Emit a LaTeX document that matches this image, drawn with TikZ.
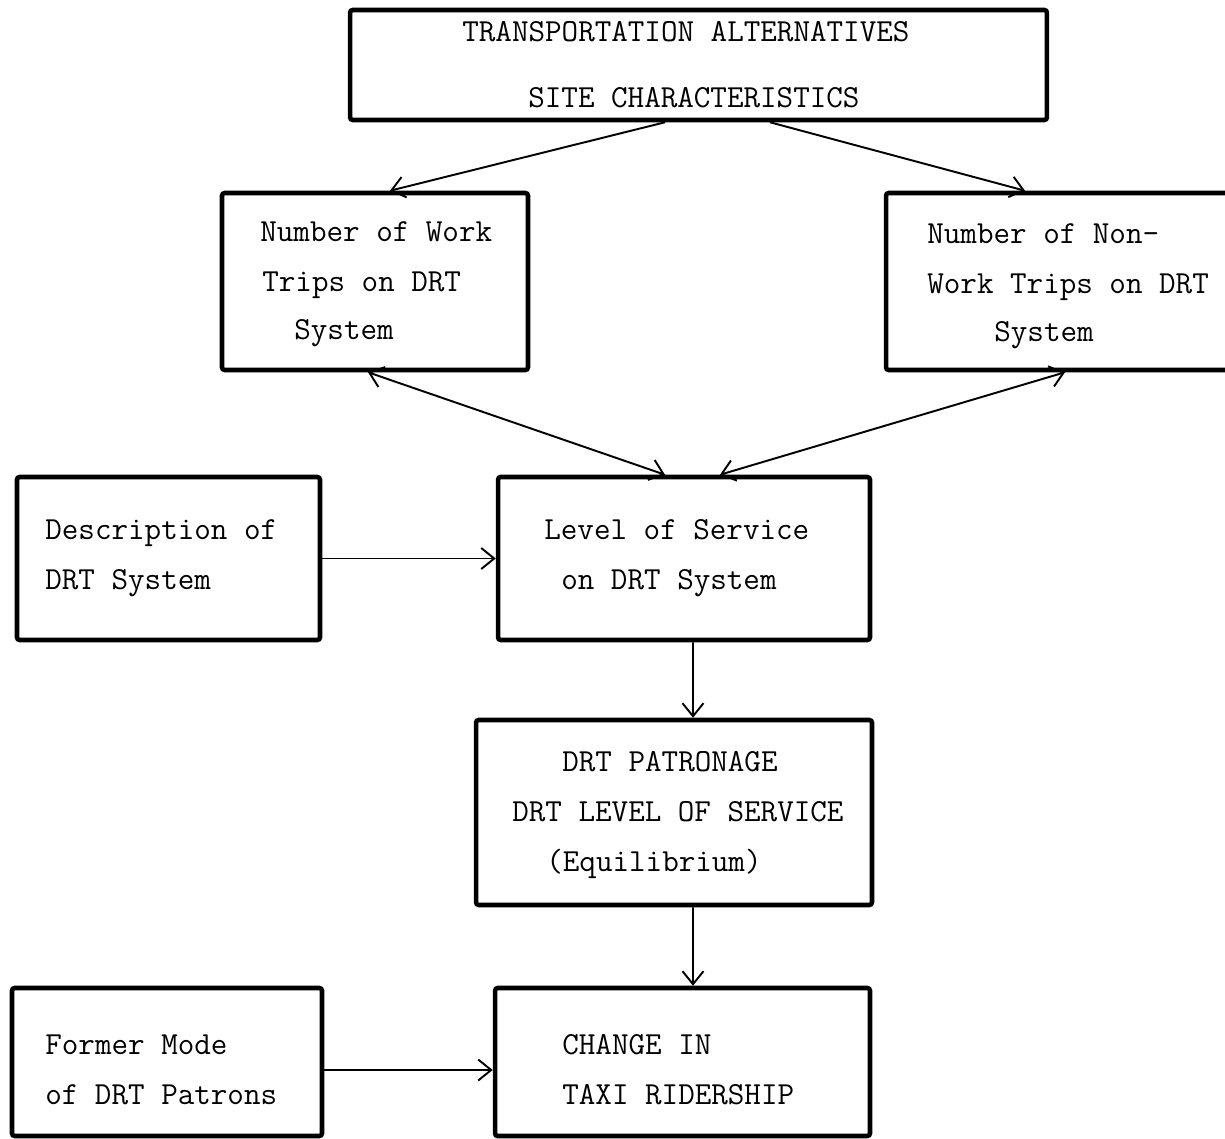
\documentclass[tikz,border=0pt]{standalone}
\usetikzlibrary{arrows.meta}
\tikzset{
  box/.style={draw, line width=2.6pt, rounded corners=1.5pt, inner sep=0pt},
  txt/.style={anchor=mid west, inner sep=0pt, font=\ttfamily\fontsize{18.3pt}{20pt}\selectfont},
  arr/.style={line width=1.1pt, -{Straight Barb[length=2.6mm,width=4.2mm]}},
  darr/.style={line width=1.1pt, {Straight Barb[length=2.6mm,width=4.2mm]}-{Straight Barb[length=2.6mm,width=4.2mm]}}
}
\begin{document}
\begin{tikzpicture}[x=0.02cm,y=-0.02cm]
\useasboundingbox (0,0) rectangle (1225,1139);
\clip (0,0) rectangle (1225,1139);
\fill[white] (0,0) rectangle (1225,1139);
% boxes
\node[box, minimum width=13.94cm, minimum height=2.2cm] (top) at (698.5,65) {};
\node[box, minimum width=6.12cm, minimum height=3.54cm] (work) at (375,281.5) {};
\node[box, minimum width=7.08cm, minimum height=3.54cm] (nonwork) at (1063,281.5) {};
\node[box, minimum width=6.06cm, minimum height=3.26cm] (desc) at (168.5,558.5) {};
\node[box, minimum width=7.44cm, minimum height=3.26cm] (los) at (684,558.5) {};
\node[box, minimum width=7.92cm, minimum height=3.7cm] (patr) at (674,812.5) {};
\node[box, minimum width=6.2cm, minimum height=2.96cm] (former) at (167,1062) {};
\node[box, minimum width=7.5cm, minimum height=2.96cm] (change) at (682.5,1062) {};
% texts
\node[txt] (t1) at (462,38) {TRANSPORTATION ALTERNATIVES};
\node[txt] (t2) at (528,104) {SITE CHARACTERISTICS};
\node[txt] (w1) at (260,238) {Number of Work};
\node[txt] (w2) at (262,288) {Trips on DRT};
\node[txt] (w3) at (294,336) {System};
\node[txt] (n1) at (927,240) {Number of Non-};
\node[txt] (n2) at (927,290) {Work Trips on DRT};
\node[txt] (n3) at (994,338) {System};
\node[txt] (d1) at (45,536) {Description of};
\node[txt] (d2) at (45,586) {DRT System};
\node[txt] (l1) at (544,536) {Level of Service};
\node[txt] (l2) at (561,586) {on DRT System};
\node[txt] (p1) at (562,768) {DRT PATRONAGE};
\node[txt] (p2) at (512,818) {DRT LEVEL OF SERVICE};
\node[txt] (p3) at (546,868) {(Equilibrium)};
\node[txt] (f1) at (45,1051) {Former Mode};
\node[txt] (f2) at (45,1101) {of DRT Patrons};
\node[txt] (c1) at (562,1051) {CHANGE IN};
\node[txt] (c2) at (562,1101) {TAXI RIDERSHIP};
% connectors
\draw[arr] ([xshift=-0.67cm]top.south) -- ([xshift=0.3cm]work.north);
\draw[arr] ([xshift=1.43cm]top.south) -- ([xshift=-0.76cm]nonwork.north);
\draw[darr] ([xshift=-0.14cm]work.south) -- ([xshift=-0.38cm]los.north);
\draw[darr] ([xshift=0.04cm]nonwork.south) -- ([xshift=0.72cm]los.north);
\draw[arr] (desc.east) -- (los.west);
\draw[arr] ([xshift=0.18cm]los.south) -- ([xshift=0.38cm]patr.north);
\draw[arr] ([xshift=0.38cm]patr.south) -- ([xshift=0.21cm]change.north);
\draw[arr] ([yshift=-0.16cm]former.east) -- ([yshift=-0.16cm]change.west);
\end{tikzpicture}
\end{document}
